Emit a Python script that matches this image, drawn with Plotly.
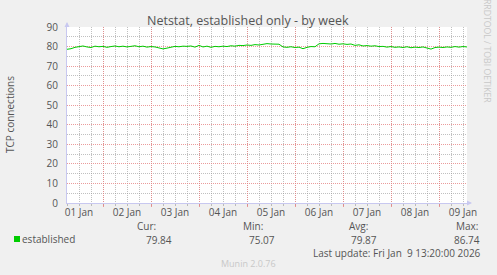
import plotly.graph_objects as go
import pandas as pd

# ---- data ----
start_time = "2026-01-01 06:00"
step_hours = 2
established = [
    78.6, 78.9, 79.6, 80.1, 80.3, 79.8, 79.5, 80.2, 79.9, 80.1,
    79.6, 80.0, 80.3, 79.9, 80.2, 79.8, 80.1, 80.4, 79.9, 80.2,
    79.7, 80.0, 79.8, 79.3, 78.8, 79.2, 79.6, 80.1, 79.9, 80.2,
    80.1, 80.3, 79.7, 80.6, 79.8, 80.2, 79.6, 80.1, 79.9, 80.2,
    80.0, 80.4, 80.2, 80.6, 80.5, 80.8, 80.6, 81.0, 80.8, 81.2,
    81.5, 81.3, 81.1, 81.2, 79.8, 79.6, 79.9, 79.5, 79.7, 78.9,
    79.6, 80.0, 79.9, 81.4, 81.6, 81.5, 81.3, 81.6, 81.2, 81.4,
    81.1, 81.3, 80.6, 80.9, 80.3, 80.5, 80.2, 80.4, 80.0, 80.1,
    79.7, 80.0, 79.6, 79.8, 79.5, 79.9, 79.4, 79.7, 79.5, 79.8,
    79.4, 78.7, 79.5, 79.7, 79.5, 79.8, 79.6, 80.0, 79.7, 80.0,
    79.8,
]
times = pd.date_range(start_time, periods=len(established), freq=f"{step_hours}h")

day_labels = ["01 Jan", "02 Jan", "03 Jan", "04 Jan", "05 Jan",
              "06 Jan", "07 Jan", "08 Jan", "09 Jan"]
label_times = pd.date_range("2026-01-01 12:00", periods=len(day_labels), freq="1D")
x_range = ["2026-01-01 06:00", "2026-01-09 14:00"]

stat_names = ["Cur:", "Min:", "Avg:", "Max:"]
stat_values = ["79.84", "75.07", "79.87", "86.74"]

# ---- style ----
W, H = 497, 275
L, R, T, B = 67, 467, 27, 203
BG = "#F0F0F0"
TXT = "#555555"
FONT = "Open Sans"
MGRID = "rgba(230,130,130,0.8)"
GRID = "rgba(150,150,150,0.6)"
AXIS = "#C8C8F0"
DASH = "1px,1px"


def px(x):
    return (x - L) / (R - L)


def py(y):
    return (B - y) / (B - T)


fig = go.Figure()
fig.add_trace(go.Scatter(x=times, y=established, mode="lines",
                         line=dict(color="#00CC00", width=1),
                         showlegend=False, hoverinfo="skip"))
# overlay axis used only for day-boundary grid lines
fig.add_trace(go.Scatter(x=[times[0]], y=[None], xaxis="x2", showlegend=False,
                         hoverinfo="skip"))

fig.update_layout(
    width=W, height=H,
    margin=dict(l=L, r=W - R, t=T, b=H - B),
    paper_bgcolor=BG, plot_bgcolor="white",
    font=dict(family=FONT, size=10, color=TXT),
    xaxis=dict(range=x_range, type="date", tickvals=label_times, ticktext=day_labels,
               showgrid=False, zeroline=False, showline=True, linecolor=AXIS,
               linewidth=1, ticks="", tickfont=dict(size=10, color=TXT),
               minor=dict(dtick=6 * 3600 * 1000, tick0="2026-01-01 00:00",
                          showgrid=True, gridcolor=GRID, griddash=DASH,
                          gridwidth=1, ticks="outside", ticklen=2, tickcolor=GRID)),
    xaxis2=dict(range=x_range, type="date", overlaying="x", showticklabels=False,
                dtick=86400000, tick0="2026-01-01 00:00", showgrid=True,
                gridcolor=MGRID, griddash=DASH, gridwidth=1, zeroline=False,
                showline=False, ticks="outside", ticklen=3, tickcolor=MGRID,
                side="bottom"),
    yaxis=dict(range=[0, 90], dtick=10, showgrid=True, gridcolor=MGRID,
               griddash=DASH, gridwidth=1, zeroline=False, showline=True,
               linecolor=AXIS, linewidth=1, ticks="", ticklabelstandoff=6,
               tickfont=dict(size=10, color=TXT),
               minor=dict(dtick=5, tick0=0, showgrid=True, gridcolor=GRID,
                          griddash=DASH, gridwidth=1)),
)

ann = []
ann.append(dict(text="Netstat, established only - by week", x=px(248), y=py(21),
                xref="paper", yref="paper", showarrow=False,
                font=dict(size=12.5, color=TXT), xanchor="center", yanchor="middle"))
ann.append(dict(text="TCP connections", x=px(10), y=py(115), xref="paper", yref="paper",
                showarrow=False, textangle=-90, font=dict(size=10, color=TXT),
                xanchor="center", yanchor="middle"))
ann.append(dict(text="RRDTOOL / TOBI OETIKER", x=px(487), y=py(51), xref="paper",
                yref="paper", showarrow=False, textangle=90,
                font=dict(size=8.7, color="#C8C8C8"), xanchor="center", yanchor="middle"))
ann.append(dict(text="established", x=px(20), y=py(239), xref="paper", yref="paper",
                showarrow=False, font=dict(size=10, color=TXT), xanchor="left",
                yanchor="middle"))
name_x = [146, 253, 358.5, 467]
val_x = [159, 261.5, 363.5, 466.5]
for n, v, nx, vx in zip(stat_names, stat_values, name_x, val_x):
    ann.append(dict(text=n, x=px(nx), y=py(226), xref="paper", yref="paper",
                    showarrow=False, font=dict(size=10, color=TXT), borderpad=0,
                    xanchor="center", yanchor="middle"))
    ann.append(dict(text=v, x=px(vx), y=py(240), xref="paper", yref="paper",
                    showarrow=False, font=dict(size=10, color=TXT), borderpad=0,
                    xanchor="center", yanchor="middle"))
ann.append(dict(text="Last update: Fri Jan\u00a0\u00a09 13:20:00 2026", x=px(482), y=py(253),
                xref="paper", yref="paper", showarrow=False, borderpad=0,
                font=dict(size=10, color=TXT), xanchor="right", yanchor="middle"))
ann.append(dict(text="Munin 2.0.76", x=px(248), y=py(263), xref="paper", yref="paper",
                showarrow=False, font=dict(size=9, color="#C8C8C8"), borderpad=0,
                xanchor="center", yanchor="middle"))
# axis arrows
ann.append(dict(text="", x=0, y=1, xref="paper", yref="paper", showarrow=True,
                ax=0, ay=6, arrowhead=2, arrowsize=1, arrowwidth=1, arrowcolor=AXIS,
                yshift=5))
ann.append(dict(text="", x=1, y=0, xref="paper", yref="paper", showarrow=True,
                ax=-6, ay=0, arrowhead=2, arrowsize=1, arrowwidth=1, arrowcolor=AXIS,
                xshift=5))
fig.update_layout(annotations=ann)

fig.add_shape(type="rect", xref="paper", yref="paper",
              x0=px(14), x1=px(20), y0=py(242), y1=py(236),
              fillcolor="#00CC00", line=dict(width=0))

fig.write_html("out.html")
